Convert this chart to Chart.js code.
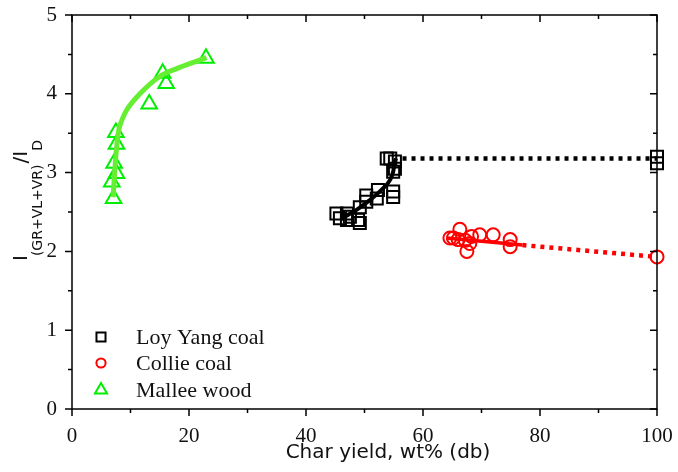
<!DOCTYPE html>
<html>
<head>
<meta charset="utf-8">
<script src="https://cdn.jsdelivr.net/npm/chart.js@4/dist/chart.umd.min.js"></script>
<style>
    html, body { margin: 0; padding: 0; background: #fff; }
    #wrap { width: 678px; height: 472px; }
</style>
</head>
<body>
<div id="wrap"><canvas id="chart" width="678" height="472"></canvas></div>
<script>
// 數據
const loyYangX = [45.2, 45.8, 47.0, 47.0, 47.5, 48.9, 49.2, 49.2, 50.3, 50.3, 52.1, 52.3, 53.8, 54.4, 54.9, 54.9, 54.9, 55.2, 55.2, 100, 100];
const loyYangY = [2.48, 2.42, 2.48, 2.40, 2.44, 2.40, 2.36, 2.56, 2.63, 2.71, 2.67, 2.78, 3.18, 3.18, 3.01, 2.76, 2.69, 3.14, 3.05, 3.20, 3.12];

const collieX = [64.6, 65.2, 66.0, 66.3, 67.2, 67.5, 68.0, 68.3, 69.7, 72.0, 74.9, 74.9, 100];
const collieY = [2.17, 2.17, 2.15, 2.28, 2.14, 2.00, 2.10, 2.19, 2.21, 2.21, 2.15, 2.06, 1.93];

const malleeX = [6.8, 7.1, 7.2, 7.5, 7.6, 7.6, 13.2, 15.5, 16.1, 22.9];
const malleeY = [2.88, 2.67, 3.12, 3.51, 3.36, 2.99, 3.87, 4.26, 4.13, 4.45];

// 趨勢線
const loyFitX = [46.4, 48.7, 50.9, 52.9, 54.4, 54.9, 55.2, 55.4];
const loyFitY = [2.43, 2.53, 2.65, 2.78, 2.91, 3.01, 3.14, 3.18];
const loyDotX = [56.5, 100];
const loyDotY = [3.18, 3.18];

const collieFitX = [64.0, 77.0];
const collieFitY = [2.17, 2.08];
const collieDotX = [77.0, 100];
const collieDotY = [2.08, 1.93];

const malleeFitX = [7.05, 7.2, 7.4, 7.9, 8.6, 9.4, 11.6, 15.0, 17.9, 21.9, 23.0];
const malleeFitY = [2.69, 2.90, 3.12, 3.50, 3.68, 3.80, 4.00, 4.22, 4.32, 4.43, 4.46];

const xTicks = [0, 20, 40, 60, 80, 100];
const yTicks = [0, 1, 2, 3, 4, 5];

const legendLabels = ['Loy Yang coal', 'Collie coal', 'Mallee wood'];

function toPoints(xs, ys) {
    return xs.map((x, i) => ({ x: x, y: ys[i] }));
}

function lineSet(xs, ys, color, width, dash, mono) {
    return {
        type: 'line',
        data: toPoints(xs, ys),
        borderColor: color,
        borderWidth: width,
        borderDash: dash || [],
        pointRadius: 0,
        fill: false,
        clip: false,
        cubicInterpolationMode: mono ? 'monotone' : 'default',
        tension: 0
    };
}

function markerSet(xs, ys, color, style, radius) {
    return {
        type: 'scatter',
        data: toPoints(xs, ys),
        borderColor: color,
        backgroundColor: 'rgba(0,0,0,0)',
        pointStyle: style,
        pointRadius: radius,
        pointBorderWidth: 2,
        clip: false
    };
}

// 外框與刻度
const framePlugin = {
    id: 'frame',
    afterDatasetsDraw(chart) {
        const ctx = chart.ctx;
        const a = chart.chartArea;
        const sx = chart.scales.x;
        const sy = chart.scales.y;
        ctx.save();
        ctx.strokeStyle = '#000';
        ctx.lineWidth = 1.5;
        ctx.strokeRect(a.left, a.top, a.right - a.left, a.bottom - a.top);
        ctx.beginPath();
        for (let v = 0; v <= 100; v += 10) {
            const len = v % 20 === 0 ? 7 : 4;
            const px = sx.getPixelForValue(v);
            ctx.moveTo(px, a.bottom);
            ctx.lineTo(px, a.bottom + len);
            ctx.moveTo(px, a.top);
            ctx.lineTo(px, a.top + len);
        }
        for (let v = 0; v <= 5; v += 0.5) {
            const len = v % 1 === 0 ? 7 : 4;
            const py = sy.getPixelForValue(v);
            ctx.moveTo(a.left - len, py);
            ctx.lineTo(a.left, py);
            ctx.moveTo(a.right - len, py);
            ctx.lineTo(a.right, py);
        }
        ctx.stroke();
        ctx.restore();
    }
};

// 圖例與軸標題
const textPlugin = {
    id: 'texts',
    afterDraw(chart) {
        const ctx = chart.ctx;
        const draw = Chart.helpers.drawPoint;
        ctx.save();

        const items = [
            { color: '#000', style: 'rect', r: 6.4, y: 337 },
            { color: '#ff0000', style: 'circle', r: 4.6, y: 363 },
            { color: '#00ee00', style: 'triangle', r: 7, y: 390 }
        ];
        items.forEach((it, i) => {
            ctx.strokeStyle = it.color;
            ctx.fillStyle = 'rgba(0,0,0,0)';
            ctx.lineWidth = 2;
            draw(ctx, { pointStyle: it.style, radius: it.r, rotation: 0, borderWidth: 2 }, 101, it.y);
            ctx.fillStyle = '#111';
            ctx.font = '22px "Liberation Serif"';
            ctx.textAlign = 'left';
            ctx.textBaseline = 'middle';
            ctx.fillText(legendLabels[i], 136, it.y + 1);
        });

        // x 軸標題
        ctx.fillStyle = '#111';
        ctx.font = '20px "DejaVu Sans"';
        ctx.textAlign = 'center';
        ctx.textBaseline = 'alphabetic';
        ctx.fillText('Char yield, wt% (db)', 388, 458);

        // y 軸標題 (旋轉, 含下標)
        ctx.translate(27, 261);
        ctx.rotate(-Math.PI / 2);
        ctx.textAlign = 'left';
        const big = '20px "DejaVu Sans"';
        const small = '14px "DejaVu Sans"';
        let u = 0;
        ctx.font = big;
        ctx.fillText('I', u, 0);
        u += ctx.measureText('I').width;
        ctx.font = small;
        ctx.fillText('(GR+VL+VR)', u - 1, 15);
        u += ctx.measureText('(GR+VL+VR)').width;
        ctx.font = big;
        ctx.fillText('/I', u, 0);
        u += ctx.measureText('/I').width;
        ctx.font = small;
        ctx.fillText('D', u, 15);
        ctx.restore();
    }
};

const tickFont = { family: 'Liberation Serif', size: 21 };

new Chart(document.getElementById('chart'), {
    data: {
        datasets: [
            lineSet(loyFitX, loyFitY, '#000', 4, null, true),
            lineSet(loyDotX, loyDotY, '#000', 4.5, [4, 5]),
            lineSet(collieFitX, collieFitY, '#ff0000', 3.5),
            lineSet(collieDotX, collieDotY, '#ff0000', 4.5, [4, 5]),
            lineSet(malleeFitX, malleeFitY, '#66ee33', 5, null, true),
            markerSet(loyYangX, loyYangY, '#000', 'rect', 8.5),
            markerSet(collieX, collieY, '#ff0000', 'circle', 6.5),
            markerSet(malleeX, malleeY, '#00ee00', 'triangle', 9)
        ]
    },
    options: {
        responsive: false,
        animation: false,
        layout: { padding: { top: 15, right: 21, left: 0, bottom: 0 } },
        plugins: {
            legend: { display: false },
            tooltip: { enabled: false }
        },
        scales: {
            x: {
                type: 'linear',
                min: 0,
                max: 100,
                afterBuildTicks: s => { s.ticks = xTicks.map(v => ({ value: v })); },
                ticks: { font: tickFont, color: '#111', padding: 15, maxRotation: 0 },
                grid: { display: false, drawTicks: false },
                border: { display: false },
                afterFit: s => {
                    s.height = 63;
                    s.paddingLeft = 0;
                    s.paddingRight = 0;
                }
            },
            y: {
                type: 'linear',
                min: 0,
                max: 5,
                afterBuildTicks: s => { s.ticks = yTicks.map(v => ({ value: v })); },
                ticks: { font: tickFont, color: '#111', padding: 15 },
                grid: { display: false, drawTicks: false },
                border: { display: false },
                afterFit: s => {
                    s.width = 72;
                    s.paddingTop = 0;
                    s.paddingBottom = 0;
                }
            }
        }
    },
    plugins: [framePlugin, textPlugin]
});
</script>
</body>
</html>
